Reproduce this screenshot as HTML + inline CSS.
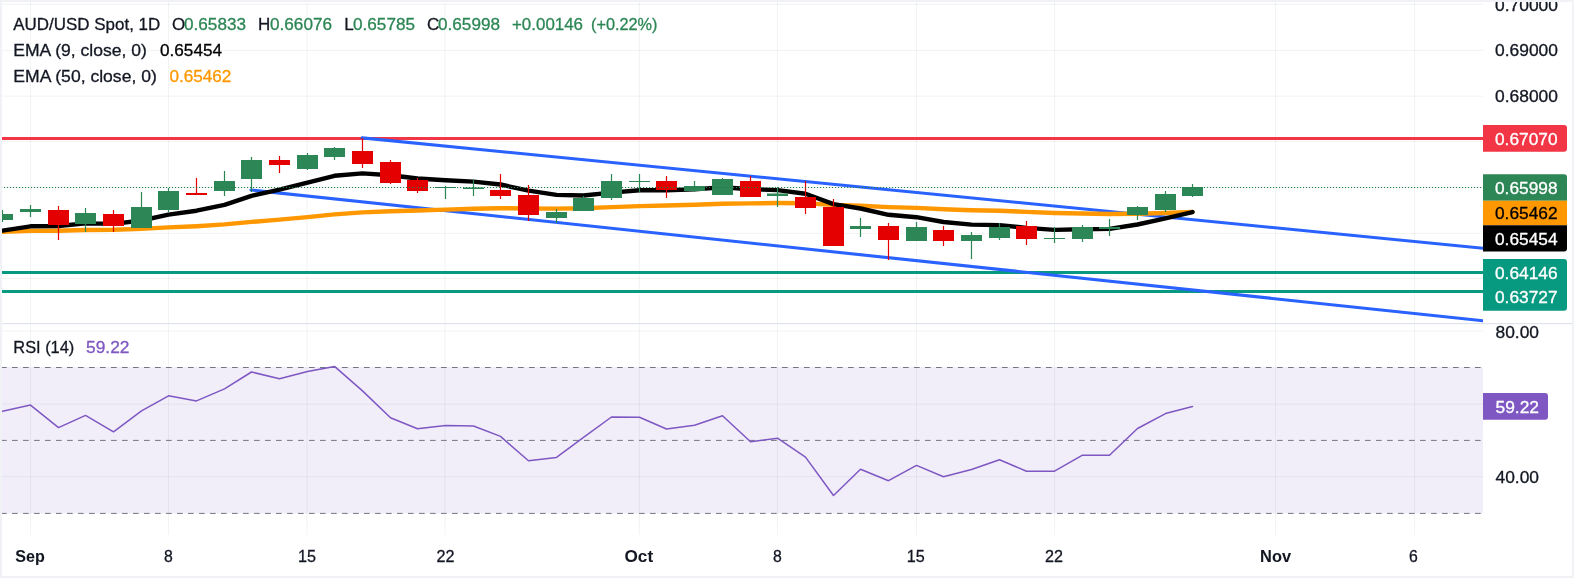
<!DOCTYPE html><html><head><meta charset="utf-8"><title>AUD/USD</title><style>html,body{margin:0;padding:0;background:#fff}svg{display:block;will-change:transform}text{font-family:"Liberation Sans",sans-serif}</style></head><body>
<svg width="1574" height="578" viewBox="0 0 1574 578">
<rect width="1574" height="578" fill="#fff"/>
<rect x="0" y="367" width="1483" height="146.5" fill="#f1eef9"/>
<rect x="30" y="2" width="1" height="533" fill="#2a2e39" fill-opacity="0.06"/>
<rect x="168" y="2" width="1" height="533" fill="#2a2e39" fill-opacity="0.06"/>
<rect x="306.5" y="2" width="1" height="533" fill="#2a2e39" fill-opacity="0.06"/>
<rect x="444.5" y="2" width="1" height="533" fill="#2a2e39" fill-opacity="0.06"/>
<rect x="638.8" y="2" width="1" height="533" fill="#2a2e39" fill-opacity="0.06"/>
<rect x="777" y="2" width="1" height="533" fill="#2a2e39" fill-opacity="0.06"/>
<rect x="916" y="2" width="1" height="533" fill="#2a2e39" fill-opacity="0.06"/>
<rect x="1054" y="2" width="1" height="533" fill="#2a2e39" fill-opacity="0.06"/>
<rect x="1275" y="2" width="1" height="533" fill="#2a2e39" fill-opacity="0.06"/>
<rect x="1414" y="2" width="1" height="533" fill="#2a2e39" fill-opacity="0.06"/>
<rect x="0" y="3.8" width="1483" height="1" fill="#2a2e39" fill-opacity="0.06"/>
<rect x="0" y="49.9" width="1483" height="1" fill="#2a2e39" fill-opacity="0.06"/>
<rect x="0" y="95.7" width="1483" height="1" fill="#2a2e39" fill-opacity="0.06"/>
<rect x="0" y="140.9" width="1483" height="1" fill="#2a2e39" fill-opacity="0.06"/>
<rect x="0" y="186.9" width="1483" height="1" fill="#2a2e39" fill-opacity="0.06"/>
<rect x="0" y="232.9" width="1483" height="1" fill="#2a2e39" fill-opacity="0.06"/>
<rect x="0" y="278.0" width="1483" height="1" fill="#2a2e39" fill-opacity="0.06"/>
<rect x="0" y="330.5" width="1483" height="1" fill="#2a2e39" fill-opacity="0.06"/>
<rect x="0" y="403.7" width="1483" height="1" fill="#2a2e39" fill-opacity="0.06"/>
<rect x="0" y="476.1" width="1483" height="1" fill="#2a2e39" fill-opacity="0.06"/>
<rect x="0" y="323" width="1574" height="1.2" fill="#e0e3eb"/>
<line x1="1" y1="367.5" x2="1483" y2="367.5" stroke="#737782" stroke-width="1" stroke-dasharray="5.7 5.3"/>
<line x1="1" y1="440.4" x2="1483" y2="440.4" stroke="#737782" stroke-width="1" stroke-dasharray="5.7 5.3"/>
<line x1="1" y1="513.4" x2="1483" y2="513.4" stroke="#737782" stroke-width="1" stroke-dasharray="5.7 5.3"/>
<rect x="0" y="137" width="1483" height="3" fill="#f23645"/>
<rect x="0" y="271" width="1483" height="3" fill="#089981"/>
<rect x="0" y="290" width="1483" height="3" fill="#089981"/>
<clipPath id="pc"><rect x="0" y="0" width="1483" height="540"/></clipPath>
<g clip-path="url(#pc)"><line x1="362.2" y1="137.9" x2="1488" y2="248.69" stroke="#2962ff" stroke-width="3.1" stroke-linecap="round"/>
<line x1="251" y1="190" x2="1488" y2="321.33" stroke="#2962ff" stroke-width="3.1" stroke-linecap="round"/></g>
<path d="M2.5 231.8 L30.5 230.9 L58.5 230.7 L85.5 230.0 L113.5 229.8 L141.5 228.9 L168.5 227.4 L196.5 226.2 L224.5 224.4 L251.5 221.9 L279.5 219.6 L307.5 217.1 L334.5 214.4 L362.5 212.4 L390.5 211.3 L417.5 210.5 L445.5 209.6 L473.5 208.7 L500.5 208.2 L528.5 208.5 L556.5 208.6 L583.5 208.2 L611.5 207.1 L639.5 206.1 L666.5 205.5 L694.5 204.7 L722.5 203.7 L750.5 203.4 L777.5 203.0 L805.5 203.2 L833.5 204.9 L860.5 205.7 L888.5 207.1 L916.5 207.9 L943.5 209.2 L971.5 210.2 L999.5 210.8 L1026.5 211.9 L1054.5 213.0 L1082.5 213.5 L1109.5 214.0 L1137.5 213.8 L1165.5 213.0 L1192.5 212.0" fill="none" stroke="#ff9800" stroke-width="4.4" stroke-linejoin="round" stroke-linecap="round"/>
<path d="M2.5 230.6 L30.5 226.3 L58.5 226.0 L85.5 223.4 L113.5 223.9 L141.5 220.5 L168.5 214.6 L196.5 210.7 L224.5 204.8 L251.5 195.8 L279.5 189.7 L307.5 182.7 L334.5 175.8 L362.5 173.4 L390.5 175.3 L417.5 178.5 L445.5 180.2 L473.5 181.6 L500.5 184.5 L528.5 190.6 L556.5 194.9 L583.5 195.5 L611.5 192.6 L639.5 190.3 L666.5 190.2 L694.5 189.4 L722.5 187.3 L750.5 189.2 L777.5 190.1 L805.5 193.7 L833.5 204.1 L860.5 208.5 L888.5 214.8 L916.5 217.2 L943.5 222.0 L971.5 224.6 L999.5 225.1 L1026.5 227.9 L1054.5 229.9 L1082.5 229.3 L1109.5 228.9 L1137.5 224.5 L1165.5 218.4 L1192.5 212.1" fill="none" stroke="#000" stroke-width="4.4" stroke-linejoin="round" stroke-linecap="round"/>
<rect x="1.9" y="210" width="1.2" height="12" fill="#2d8655"/>
<rect x="-8" y="214" width="21" height="6" fill="#2d8655"/>
<rect x="29.9" y="205" width="1.2" height="12" fill="#2d8655"/>
<rect x="20" y="209" width="21" height="3" fill="#2d8655"/>
<rect x="57.9" y="206" width="1.2" height="34" fill="#e40000"/>
<rect x="48" y="210" width="21" height="15" fill="#e40000"/>
<rect x="84.9" y="208" width="1.2" height="24" fill="#2d8655"/>
<rect x="75" y="213" width="21" height="11" fill="#2d8655"/>
<rect x="112.9" y="210" width="1.2" height="22" fill="#e40000"/>
<rect x="103" y="214" width="21" height="12" fill="#e40000"/>
<rect x="140.9" y="192" width="1.2" height="36" fill="#2d8655"/>
<rect x="131" y="207" width="21" height="21" fill="#2d8655"/>
<rect x="167.9" y="188" width="1.2" height="24" fill="#2d8655"/>
<rect x="158" y="191" width="21" height="19" fill="#2d8655"/>
<rect x="195.9" y="178" width="1.2" height="17" fill="#e40000"/>
<rect x="186" y="193" width="21" height="2" fill="#e40000"/>
<rect x="223.9" y="171" width="1.2" height="25" fill="#2d8655"/>
<rect x="214" y="181" width="21" height="10" fill="#2d8655"/>
<rect x="250.9" y="157" width="1.2" height="35" fill="#2d8655"/>
<rect x="241" y="160" width="21" height="19" fill="#2d8655"/>
<rect x="278.9" y="156" width="1.2" height="17" fill="#e40000"/>
<rect x="269" y="160" width="21" height="5" fill="#e40000"/>
<rect x="306.9" y="153" width="1.2" height="17" fill="#2d8655"/>
<rect x="297" y="155" width="21" height="14" fill="#2d8655"/>
<rect x="333.9" y="147" width="1.2" height="13" fill="#2d8655"/>
<rect x="324" y="148" width="21" height="9" fill="#2d8655"/>
<rect x="361.9" y="138" width="1.2" height="30" fill="#e40000"/>
<rect x="352" y="151" width="21" height="13" fill="#e40000"/>
<rect x="389.9" y="160" width="1.2" height="24" fill="#e40000"/>
<rect x="380" y="162" width="21" height="21" fill="#e40000"/>
<rect x="416.9" y="178" width="1.2" height="15" fill="#e40000"/>
<rect x="407" y="180" width="21" height="11" fill="#e40000"/>
<rect x="444.9" y="186" width="1.2" height="13" fill="#2d8655"/>
<rect x="435" y="187" width="21" height="1" fill="#2d8655"/>
<rect x="472.9" y="180" width="1.2" height="16" fill="#2d8655"/>
<rect x="463" y="187.5" width="21" height="1.5" fill="#2d8655"/>
<rect x="499.9" y="174" width="1.2" height="25" fill="#e40000"/>
<rect x="490" y="190" width="21" height="6" fill="#e40000"/>
<rect x="527.9" y="185" width="1.2" height="36" fill="#e40000"/>
<rect x="518" y="195" width="21" height="20" fill="#e40000"/>
<rect x="555.9" y="209" width="1.2" height="14" fill="#2d8655"/>
<rect x="546" y="212" width="21" height="6" fill="#2d8655"/>
<rect x="582.9" y="196" width="1.2" height="15" fill="#2d8655"/>
<rect x="573" y="198" width="21" height="13" fill="#2d8655"/>
<rect x="610.9" y="174" width="1.2" height="26" fill="#2d8655"/>
<rect x="601" y="181" width="21" height="17" fill="#2d8655"/>
<rect x="638.9" y="174" width="1.2" height="18" fill="#2d8655"/>
<rect x="629" y="181" width="21" height="1" fill="#2d8655"/>
<rect x="665.9" y="176" width="1.2" height="22" fill="#e40000"/>
<rect x="656" y="181" width="21" height="9" fill="#e40000"/>
<rect x="693.9" y="181" width="1.2" height="11" fill="#2d8655"/>
<rect x="684" y="186" width="21" height="5" fill="#2d8655"/>
<rect x="721.9" y="178" width="1.2" height="17" fill="#2d8655"/>
<rect x="712" y="179" width="21" height="16" fill="#2d8655"/>
<rect x="749.9" y="176" width="1.2" height="21" fill="#e40000"/>
<rect x="740" y="181" width="21" height="16" fill="#e40000"/>
<rect x="776.9" y="187" width="1.2" height="20" fill="#2d8655"/>
<rect x="767" y="193.5" width="21" height="2.5" fill="#2d8655"/>
<rect x="804.9" y="181" width="1.2" height="33" fill="#e40000"/>
<rect x="795" y="197" width="21" height="11" fill="#e40000"/>
<rect x="832.9" y="199" width="1.2" height="47" fill="#e40000"/>
<rect x="823" y="207" width="21" height="39" fill="#e40000"/>
<rect x="859.9" y="218" width="1.2" height="19" fill="#2d8655"/>
<rect x="850" y="226" width="21" height="3" fill="#2d8655"/>
<rect x="887.9" y="223" width="1.2" height="37" fill="#e40000"/>
<rect x="878" y="226" width="21" height="14" fill="#e40000"/>
<rect x="915.9" y="222" width="1.2" height="19" fill="#2d8655"/>
<rect x="906" y="227" width="21" height="14" fill="#2d8655"/>
<rect x="942.9" y="226" width="1.2" height="20" fill="#e40000"/>
<rect x="933" y="230" width="21" height="11" fill="#e40000"/>
<rect x="970.9" y="232" width="1.2" height="27" fill="#2d8655"/>
<rect x="961" y="235" width="21" height="6" fill="#2d8655"/>
<rect x="998.9" y="223" width="1.2" height="17" fill="#2d8655"/>
<rect x="989" y="227" width="21" height="11" fill="#2d8655"/>
<rect x="1025.9" y="221" width="1.2" height="24" fill="#e40000"/>
<rect x="1016" y="226" width="21" height="13" fill="#e40000"/>
<rect x="1053.9" y="227" width="1.2" height="16" fill="#2d8655"/>
<rect x="1044" y="238" width="21" height="1" fill="#2d8655"/>
<rect x="1081.9" y="225" width="1.2" height="17" fill="#2d8655"/>
<rect x="1072" y="227" width="21" height="12" fill="#2d8655"/>
<rect x="1108.9" y="219" width="1.2" height="17" fill="#2d8655"/>
<rect x="1099" y="227" width="21" height="2" fill="#2d8655"/>
<rect x="1136.9" y="206" width="1.2" height="14" fill="#2d8655"/>
<rect x="1127" y="207" width="21" height="8" fill="#2d8655"/>
<rect x="1164.9" y="191" width="1.2" height="21" fill="#2d8655"/>
<rect x="1155" y="194" width="21" height="16" fill="#2d8655"/>
<rect x="1191.9" y="184" width="1.2" height="13" fill="#2d8655"/>
<rect x="1182" y="187" width="21" height="9" fill="#2d8655"/>
<line x1="1" y1="187.5" x2="1483" y2="187.5" stroke="#1f7f49" stroke-width="1.15" stroke-dasharray="1.1 1.9"/>
<path d="M2.5 411.2 L30.5 405.1 L58.5 427.6 L85.5 415.4 L113.5 431.8 L141.5 410.8 L168.5 395.8 L196.5 400.9 L224.5 388.9 L251.5 372.0 L279.5 378.8 L307.5 371.6 L334.5 366.4 L362.5 390.9 L390.5 417.7 L417.5 428.7 L445.5 425.6 L473.5 426.0 L500.5 436.4 L528.5 460.7 L556.5 457.4 L583.5 437.3 L611.5 417.0 L639.5 417.2 L666.5 429.0 L694.5 425.3 L722.5 415.7 L750.5 441.7 L777.5 438.2 L805.5 457.1 L833.5 495.5 L860.5 469.3 L888.5 480.7 L916.5 465.4 L943.5 476.8 L971.5 469.5 L999.5 459.8 L1026.5 471.2 L1054.5 471.2 L1082.5 455.2 L1109.5 455.2 L1137.5 428.5 L1165.5 413.6 L1192.5 406.5" fill="none" stroke="#7e57c2" stroke-width="1.5" stroke-linejoin="round" stroke-linecap="round"/>
<text x="13.3" y="29.6" font-size="17" fill="#131722" text-anchor="start" font-weight="normal" stroke="#131722" stroke-width="0.3" textLength="147" lengthAdjust="spacingAndGlyphs">AUD/USD Spot, 1D</text>
<text x="172" y="29.6" font-size="17" fill="#131722" text-anchor="start" font-weight="normal" stroke="#131722" stroke-width="0.3">O</text>
<text x="184" y="29.6" font-size="17" fill="#2d8655" text-anchor="start" font-weight="normal" stroke="#2d8655" stroke-width="0.3" textLength="62" lengthAdjust="spacingAndGlyphs">0.65833</text>
<text x="258" y="29.6" font-size="17" fill="#131722" text-anchor="start" font-weight="normal" stroke="#131722" stroke-width="0.3">H</text>
<text x="270" y="29.6" font-size="17" fill="#2d8655" text-anchor="start" font-weight="normal" stroke="#2d8655" stroke-width="0.3" textLength="62" lengthAdjust="spacingAndGlyphs">0.66076</text>
<text x="344.3" y="29.6" font-size="17" fill="#131722" text-anchor="start" font-weight="normal" stroke="#131722" stroke-width="0.3">L</text>
<text x="353" y="29.6" font-size="17" fill="#2d8655" text-anchor="start" font-weight="normal" stroke="#2d8655" stroke-width="0.3" textLength="62" lengthAdjust="spacingAndGlyphs">0.65785</text>
<text x="427" y="29.6" font-size="17" fill="#131722" text-anchor="start" font-weight="normal" stroke="#131722" stroke-width="0.3">C</text>
<text x="438" y="29.6" font-size="17" fill="#2d8655" text-anchor="start" font-weight="normal" stroke="#2d8655" stroke-width="0.3" textLength="62" lengthAdjust="spacingAndGlyphs">0.65998</text>
<text x="512" y="29.6" font-size="17" fill="#2d8655" text-anchor="start" font-weight="normal" stroke="#2d8655" stroke-width="0.3" textLength="71" lengthAdjust="spacingAndGlyphs">+0.00146</text>
<text x="591" y="29.6" font-size="17" fill="#2d8655" text-anchor="start" font-weight="normal" stroke="#2d8655" stroke-width="0.3" textLength="66.5" lengthAdjust="spacingAndGlyphs">(+0.22%)</text>
<text x="13.3" y="55.7" font-size="17" fill="#131722" text-anchor="start" font-weight="normal" stroke="#131722" stroke-width="0.3" textLength="133.5" lengthAdjust="spacingAndGlyphs">EMA (9, close, 0)</text>
<text x="160" y="55.7" font-size="17" fill="#000" text-anchor="start" font-weight="normal" stroke="#000" stroke-width="0.3" textLength="62" lengthAdjust="spacingAndGlyphs">0.65454</text>
<text x="13.3" y="81.8" font-size="17" fill="#131722" text-anchor="start" font-weight="normal" stroke="#131722" stroke-width="0.3" textLength="143.5" lengthAdjust="spacingAndGlyphs">EMA (50, close, 0)</text>
<text x="169.4" y="81.8" font-size="17" fill="#ff9800" text-anchor="start" font-weight="normal" stroke="#ff9800" stroke-width="0.3" textLength="62" lengthAdjust="spacingAndGlyphs">0.65462</text>
<text x="13.3" y="353" font-size="17" fill="#131722" text-anchor="start" font-weight="normal" stroke="#131722" stroke-width="0.3" textLength="61" lengthAdjust="spacingAndGlyphs">RSI (14)</text>
<text x="86" y="353" font-size="17" fill="#7e57c2" text-anchor="start" font-weight="normal" stroke="#7e57c2" stroke-width="0.3" textLength="43.5" lengthAdjust="spacingAndGlyphs">59.22</text>
<text x="1495" y="10.8" font-size="16.6" fill="#131722" text-anchor="start" font-weight="normal" stroke="#131722" stroke-width="0.3" textLength="63" lengthAdjust="spacingAndGlyphs">0.70000</text>
<text x="1495" y="56.4" font-size="16.6" fill="#131722" text-anchor="start" font-weight="normal" stroke="#131722" stroke-width="0.3" textLength="63" lengthAdjust="spacingAndGlyphs">0.69000</text>
<text x="1495" y="102" font-size="16.6" fill="#131722" text-anchor="start" font-weight="normal" stroke="#131722" stroke-width="0.3" textLength="63" lengthAdjust="spacingAndGlyphs">0.68000</text>
<text x="1495.5" y="337.8" font-size="16.6" fill="#131722" text-anchor="start" font-weight="normal" stroke="#131722" stroke-width="0.3" textLength="43.5" lengthAdjust="spacingAndGlyphs">80.00</text>
<text x="1495.5" y="482.6" font-size="16.6" fill="#131722" text-anchor="start" font-weight="normal" stroke="#131722" stroke-width="0.3" textLength="43.5" lengthAdjust="spacingAndGlyphs">40.00</text>
<path d="M1483 125 H1564 Q1567 125 1567 128 V148.8 Q1567 151.8 1564 151.8 H1483 Z" fill="#f23645"/><text x="1495" y="144.55" font-size="16.6" fill="#fff" text-anchor="start" font-weight="normal" stroke="#fff" stroke-width="0.3" textLength="62.5" lengthAdjust="spacingAndGlyphs">0.67070</text>
<path d="M1483 174.3 H1564 Q1567 174.3 1567 177.3 V200.7 Q1567 200.7 1567 200.7 H1483 Z" fill="#2d8655"/><text x="1495" y="193.5" font-size="16.6" fill="#fff" text-anchor="start" font-weight="normal" stroke="#fff" stroke-width="0.3" textLength="62.5" lengthAdjust="spacingAndGlyphs">0.65998</text>
<path d="M1483 200.7 H1567 Q1567 200.7 1567 200.7 V225.3 Q1567 225.3 1567 225.3 H1483 Z" fill="#ff9800"/><text x="1495" y="219.0" font-size="16.6" fill="#000" text-anchor="start" font-weight="normal" stroke="#000" stroke-width="0.3" textLength="62.5" lengthAdjust="spacingAndGlyphs">0.65462</text>
<path d="M1483 225.3 H1567 Q1567 225.3 1567 225.3 V248.6 Q1567 251.6 1564 251.6 H1483 Z" fill="#000"/><text x="1495" y="244.7" font-size="16.6" fill="#fff" text-anchor="start" font-weight="normal" stroke="#fff" stroke-width="0.3" textLength="62.5" lengthAdjust="spacingAndGlyphs">0.65454</text>
<path d="M1483 259 H1564 Q1567 259 1567 262 V285 Q1567 285 1567 285 H1483 Z" fill="#089981"/><text x="1495" y="278.9" font-size="16.6" fill="#fff" text-anchor="start" font-weight="normal" stroke="#fff" stroke-width="0.3" textLength="62.5" lengthAdjust="spacingAndGlyphs">0.64146</text>
<path d="M1483 285 H1567 Q1567 285 1567 285 V307.8 Q1567 310.8 1564 310.8 H1483 Z" fill="#089981"/><text x="1495" y="303.3" font-size="16.6" fill="#fff" text-anchor="start" font-weight="normal" stroke="#fff" stroke-width="0.3" textLength="62.5" lengthAdjust="spacingAndGlyphs">0.63727</text>
<path d="M1483 393 H1545 Q1548 393 1548 396 V416.7 Q1548 419.7 1545 419.7 H1483 Z" fill="#7e57c2"/><text x="1495.5" y="412.6" font-size="16.6" fill="#fff" text-anchor="start" font-weight="normal" stroke="#fff" stroke-width="0.3" textLength="43.5" lengthAdjust="spacingAndGlyphs">59.22</text>
<text x="30" y="562.2" font-size="17" fill="#131722" text-anchor="middle" font-weight="bold" stroke="#131722" stroke-width="0.05" textLength="29.5" lengthAdjust="spacingAndGlyphs">Sep</text>
<text x="168.3" y="562.2" font-size="17" fill="#131722" text-anchor="middle" font-weight="normal" stroke="#131722" stroke-width="0.3" textLength="8.8" lengthAdjust="spacingAndGlyphs">8</text>
<text x="307" y="562.2" font-size="17" fill="#131722" text-anchor="middle" font-weight="normal" stroke="#131722" stroke-width="0.3" textLength="18" lengthAdjust="spacingAndGlyphs">15</text>
<text x="445.5" y="562.2" font-size="17" fill="#131722" text-anchor="middle" font-weight="normal" stroke="#131722" stroke-width="0.3" textLength="18" lengthAdjust="spacingAndGlyphs">22</text>
<text x="638.8" y="562.2" font-size="17" fill="#131722" text-anchor="middle" font-weight="bold" stroke="#131722" stroke-width="0.05" textLength="28.6" lengthAdjust="spacingAndGlyphs">Oct</text>
<text x="777.5" y="562.2" font-size="17" fill="#131722" text-anchor="middle" font-weight="normal" stroke="#131722" stroke-width="0.3" textLength="8.8" lengthAdjust="spacingAndGlyphs">8</text>
<text x="915.8" y="562.2" font-size="17" fill="#131722" text-anchor="middle" font-weight="normal" stroke="#131722" stroke-width="0.3" textLength="18" lengthAdjust="spacingAndGlyphs">15</text>
<text x="1054.1" y="562.2" font-size="17" fill="#131722" text-anchor="middle" font-weight="normal" stroke="#131722" stroke-width="0.3" textLength="18" lengthAdjust="spacingAndGlyphs">22</text>
<text x="1275.6" y="562.2" font-size="17" fill="#131722" text-anchor="middle" font-weight="bold" stroke="#131722" stroke-width="0.05" textLength="31" lengthAdjust="spacingAndGlyphs">Nov</text>
<text x="1413.5" y="562.2" font-size="17" fill="#131722" text-anchor="middle" font-weight="normal" stroke="#131722" stroke-width="0.3" textLength="8.8" lengthAdjust="spacingAndGlyphs">6</text>
<rect x="0" y="0" width="1574" height="2" fill="#f0f2f6"/>
<rect x="0" y="576" width="1574" height="2" fill="#f0f2f6"/>
<rect x="0" y="0" width="2" height="578" fill="#f0f2f6"/>
<rect x="1572" y="0" width="2" height="578" fill="#f0f2f6"/>
</svg></body></html>
